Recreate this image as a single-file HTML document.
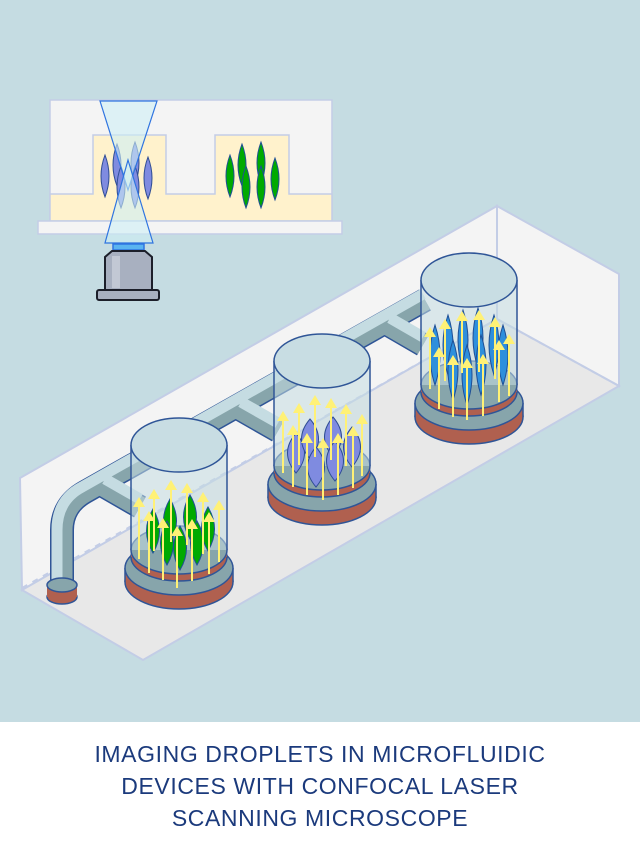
<!DOCTYPE html>
<html><head><meta charset="utf-8"><style>
html,body{margin:0;padding:0;background:#fff}
#w{width:640px;height:852px;position:relative;overflow:hidden}
.t{position:absolute;left:0;width:640px;top:738px;text-align:center;font-family:"Liberation Sans",sans-serif;font-size:23px;line-height:32px;color:#1b3a7c;letter-spacing:0.6px}
</style></head><body><div id="w">
<svg width="640" height="852" viewBox="0 0 640 852" xmlns="http://www.w3.org/2000/svg" style="position:absolute;left:0;top:0">
<defs>
<path id="lens" d="M0,-22 Q13,0 0,22 Q-13,0 0,-22Z"/>
<path id="lensT" d="M0,-30 Q10,0 0,30 Q-10,0 0,-30Z"/>
<path id="blob" d="M0,-20 Q17,0 0,20 Q-17,0 0,-20Z"/>
<g id="arr"><line x1="0" y1="4" x2="0" y2="62" stroke="#fff176" stroke-width="2"/><path d="M-6,10 L0,0 L6,10Z" fill="#fff176"/></g>
<g id="base">
<ellipse cx="0" cy="137" rx="54" ry="27" fill="#b0604f" stroke="#2f5597" stroke-width="1.5"/>
<rect x="-54" y="123" width="108" height="14" fill="#b0604f"/>
<line x1="-54" y1="123" x2="-54" y2="137" stroke="#2f5597" stroke-width="1.5"/>
<line x1="54" y1="123" x2="54" y2="137" stroke="#2f5597" stroke-width="1.5"/>
<ellipse cx="0" cy="123" rx="54" ry="27" fill="#87a5ab" stroke="#2f5597" stroke-width="1.5"/>
<ellipse cx="0" cy="112" rx="48" ry="24" fill="#b0604f" stroke="#2f5597" stroke-width="1.5"/>
<rect x="-48" y="105" width="96" height="7" fill="#b0604f"/>
<ellipse cx="0" cy="105" rx="48" ry="24" fill="#87a5ab" stroke="#2f5597" stroke-width="1.5"/>
<rect x="-48" y="0" width="96" height="105" fill="#c5dce2" fill-opacity="0.55"/>
</g>
<g id="top">
<line x1="-48" y1="0" x2="-48" y2="105" stroke="#2f5597" stroke-width="1.5"/>
<line x1="48" y1="0" x2="48" y2="105" stroke="#2f5597" stroke-width="1.5"/>
<ellipse cx="0" cy="0" rx="48" ry="27" fill="#c8dde3" stroke="#2f5597" stroke-width="1.5"/>
</g>
</defs>
<rect x="0" y="0" width="640" height="722" fill="#c5dce2"/>
<!-- box -->
<polygon points="20,478 497,206 497,319 22,590" fill="#f4f4f4" stroke="#c3cde6" stroke-width="2"/>
<polygon points="497,206 619,274 619,386 497,319" fill="#f4f4f4" stroke="#c3cde6" stroke-width="2"/>
<polygon points="22,590 497,319 619,386 143,660" fill="#e8e8e8" stroke="#c3cde6" stroke-width="2"/>
<line x1="22" y1="588" x2="497" y2="319" stroke="#c3cde6" stroke-width="2" stroke-dasharray="6,6"/>
<line x1="497" y1="206" x2="497" y2="319" stroke="#c3cde6" stroke-width="2" stroke-dasharray="6,6"/>
<line x1="497" y1="319" x2="619" y2="386" stroke="#c3cde6" stroke-width="2" stroke-dasharray="6,6"/>
<!-- pipes -->
<g fill="none" stroke-linecap="butt" stroke-linejoin="round">
<path d="M62,588 V530 Q62,505 85,492 L425,300 M100,484 L140,507 M236,407 L278,431 M385,323 L423,345" stroke="#2f5597" stroke-width="24"/>
<path d="M62,588 V530 Q62,505 85,492 L425,300 M100,484 L140,507 M236,407 L278,431 M385,323 L423,345" stroke="#87a5ab" stroke-width="21"/>
<path d="M57,588 V530 Q57,500 82,487 L423,294 M105,479 L140,499 M241,402 L278,423 M390,318 L423,337" stroke="#c5dce2" stroke-width="11"/>
</g>
<ellipse cx="62" cy="597" rx="15" ry="7" fill="#b0604f" stroke="#2f5597" stroke-width="1.5"/>
<rect x="47" y="585" width="30" height="12" fill="#b0604f"/>
<ellipse cx="62" cy="585" rx="15" ry="7" fill="#87a5ab" stroke="#2f5597" stroke-width="1.5"/>
<!-- cylinder 3 -->
<g transform="translate(469,280)">
<use href="#base"/>
<g fill="#2e8fdc" stroke="#1f4f95" stroke-width="1">
<use href="#lensT" x="-34" y="75"/><use href="#lensT" x="-21" y="65"/><use href="#lensT" x="-16" y="90"/><use href="#lensT" x="-6" y="60"/><use href="#lensT" x="9" y="58"/><use href="#lensT" x="12" y="85"/><use href="#lensT" x="25" y="65"/><use href="#lensT" x="34" y="75"/><use href="#lensT" x="-2" y="95"/>
</g>
<use href="#arr" x="-39" y="47"/><use href="#arr" x="-24" y="39"/><use href="#arr" x="-7" y="31"/><use href="#arr" x="10" y="30"/><use href="#arr" x="26" y="37"/><use href="#arr" x="40" y="54"/>
<use href="#arr" x="-30" y="67"/><use href="#arr" x="-16" y="75"/><use href="#arr" x="-2" y="78"/><use href="#arr" x="14" y="74"/><use href="#arr" x="30" y="60"/>
<use href="#top"/>
</g>
<!-- cylinder 2 -->
<g transform="translate(322,361)">
<use href="#base"/>
<g fill="#7f8be0" stroke="#2f4d95" stroke-width="1">
<use href="#blob" x="-26" y="92"/><use href="#blob" x="-12" y="78"/><use href="#blob" x="-6" y="106"/><use href="#blob" x="11" y="76"/><use href="#blob" x="13" y="100"/><use href="#blob" x="30" y="86"/>
</g>
<use href="#arr" x="-39" y="50"/><use href="#arr" x="-23" y="42"/><use href="#arr" x="-7" y="34"/><use href="#arr" x="9" y="37"/><use href="#arr" x="24" y="43"/><use href="#arr" x="40" y="53"/>
<use href="#arr" x="-29" y="64"/><use href="#arr" x="-15" y="72"/><use href="#arr" x="1" y="77"/><use href="#arr" x="16" y="72"/><use href="#arr" x="31" y="65"/>
<use href="#top"/>
</g>
<!-- cylinder 1 -->
<g transform="translate(179,445)">
<use href="#base"/>
<g fill="#00aa00" stroke="#1f4f95" stroke-width="1">
<use href="#lens" x="-26" y="86"/><use href="#lens" x="-9" y="76"/><use href="#lens" x="-12" y="98"/><use href="#lens" x="1" y="103"/><use href="#lens" x="11" y="72"/><use href="#lens" x="18" y="98"/><use href="#lens" x="29" y="84"/>
</g>
<use href="#arr" x="-40" y="52"/><use href="#arr" x="-25" y="44"/><use href="#arr" x="-8" y="35"/><use href="#arr" x="8" y="38"/><use href="#arr" x="24" y="47"/><use href="#arr" x="40" y="55"/>
<use href="#arr" x="-30" y="66"/><use href="#arr" x="-16" y="73"/><use href="#arr" x="-2" y="81"/><use href="#arr" x="13" y="74"/><use href="#arr" x="30" y="67"/>
<use href="#top"/>
</g>
<!-- inset -->
<rect x="50" y="100" width="282" height="121" fill="#f4f4f4" stroke="#c3cde6" stroke-width="1.5"/>
<path d="M50,194 H93 V135 H166 V194 H215 V135 H289 V194 H332 V221 H50Z" fill="#fff2cc" stroke="#c3cde6" stroke-width="1.5"/>
<rect x="38" y="221" width="304" height="13" fill="#f4f4f4" stroke="#c3cde6" stroke-width="1.5"/>
<g fill="#7f8be0" stroke="#2f4d95" stroke-width="1">
<path d="M105,155 Q113,176 105,197 Q97,176 105,155Z"/><path d="M117,144 Q125,165 117,186 Q109,165 117,144Z"/><path d="M121,166 Q129,187 121,208 Q113,187 121,166Z"/><path d="M135,142 Q143,163 135,184 Q127,163 135,142Z"/><path d="M135,166 Q143,187 135,208 Q127,187 135,166Z"/><path d="M148,157 Q156,178 148,199 Q140,178 148,157Z"/>
</g>
<g fill="#00aa00" stroke="#1f4f95" stroke-width="1">
<path d="M230,155 Q238,176 230,197 Q222,176 230,155Z"/><path d="M242,144 Q250,165 242,186 Q234,165 242,144Z"/><path d="M246,166 Q254,187 246,208 Q238,187 246,166Z"/><path d="M261,142 Q269,163 261,184 Q253,163 261,142Z"/><path d="M261,166 Q269,187 261,208 Q253,187 261,166Z"/><path d="M275,158 Q283,179 275,200 Q267,179 275,158Z"/>
</g>
<polygon points="100,101 157,101 128,190" fill="#cdeef5" fill-opacity="0.6" stroke="#2f74e0" stroke-width="1.2"/>
<polygon points="105,243 153,243 128,160" fill="#cdeef5" fill-opacity="0.6" stroke="#2f74e0" stroke-width="1.2"/>
<rect x="113" y="244" width="31" height="6" fill="#5ab4f0" stroke="#2f74e0" stroke-width="1.5"/>
<path d="M112,251 H145 L152,257 V290 H105 V257Z" fill="#a8b0c0" stroke="#1c1f2a" stroke-width="2"/>
<rect x="112" y="256" width="8" height="32" fill="#c2c8d4"/>
<rect x="97" y="290" width="62" height="10" rx="2" fill="#a8b0c0" stroke="#1c1f2a" stroke-width="2"/>
</svg>
<div class="t">IMAGING DROPLETS IN MICROFLUIDIC<br>DEVICES WITH CONFOCAL LASER<br>SCANNING MICROSCOPE</div>
</div></body></html>
